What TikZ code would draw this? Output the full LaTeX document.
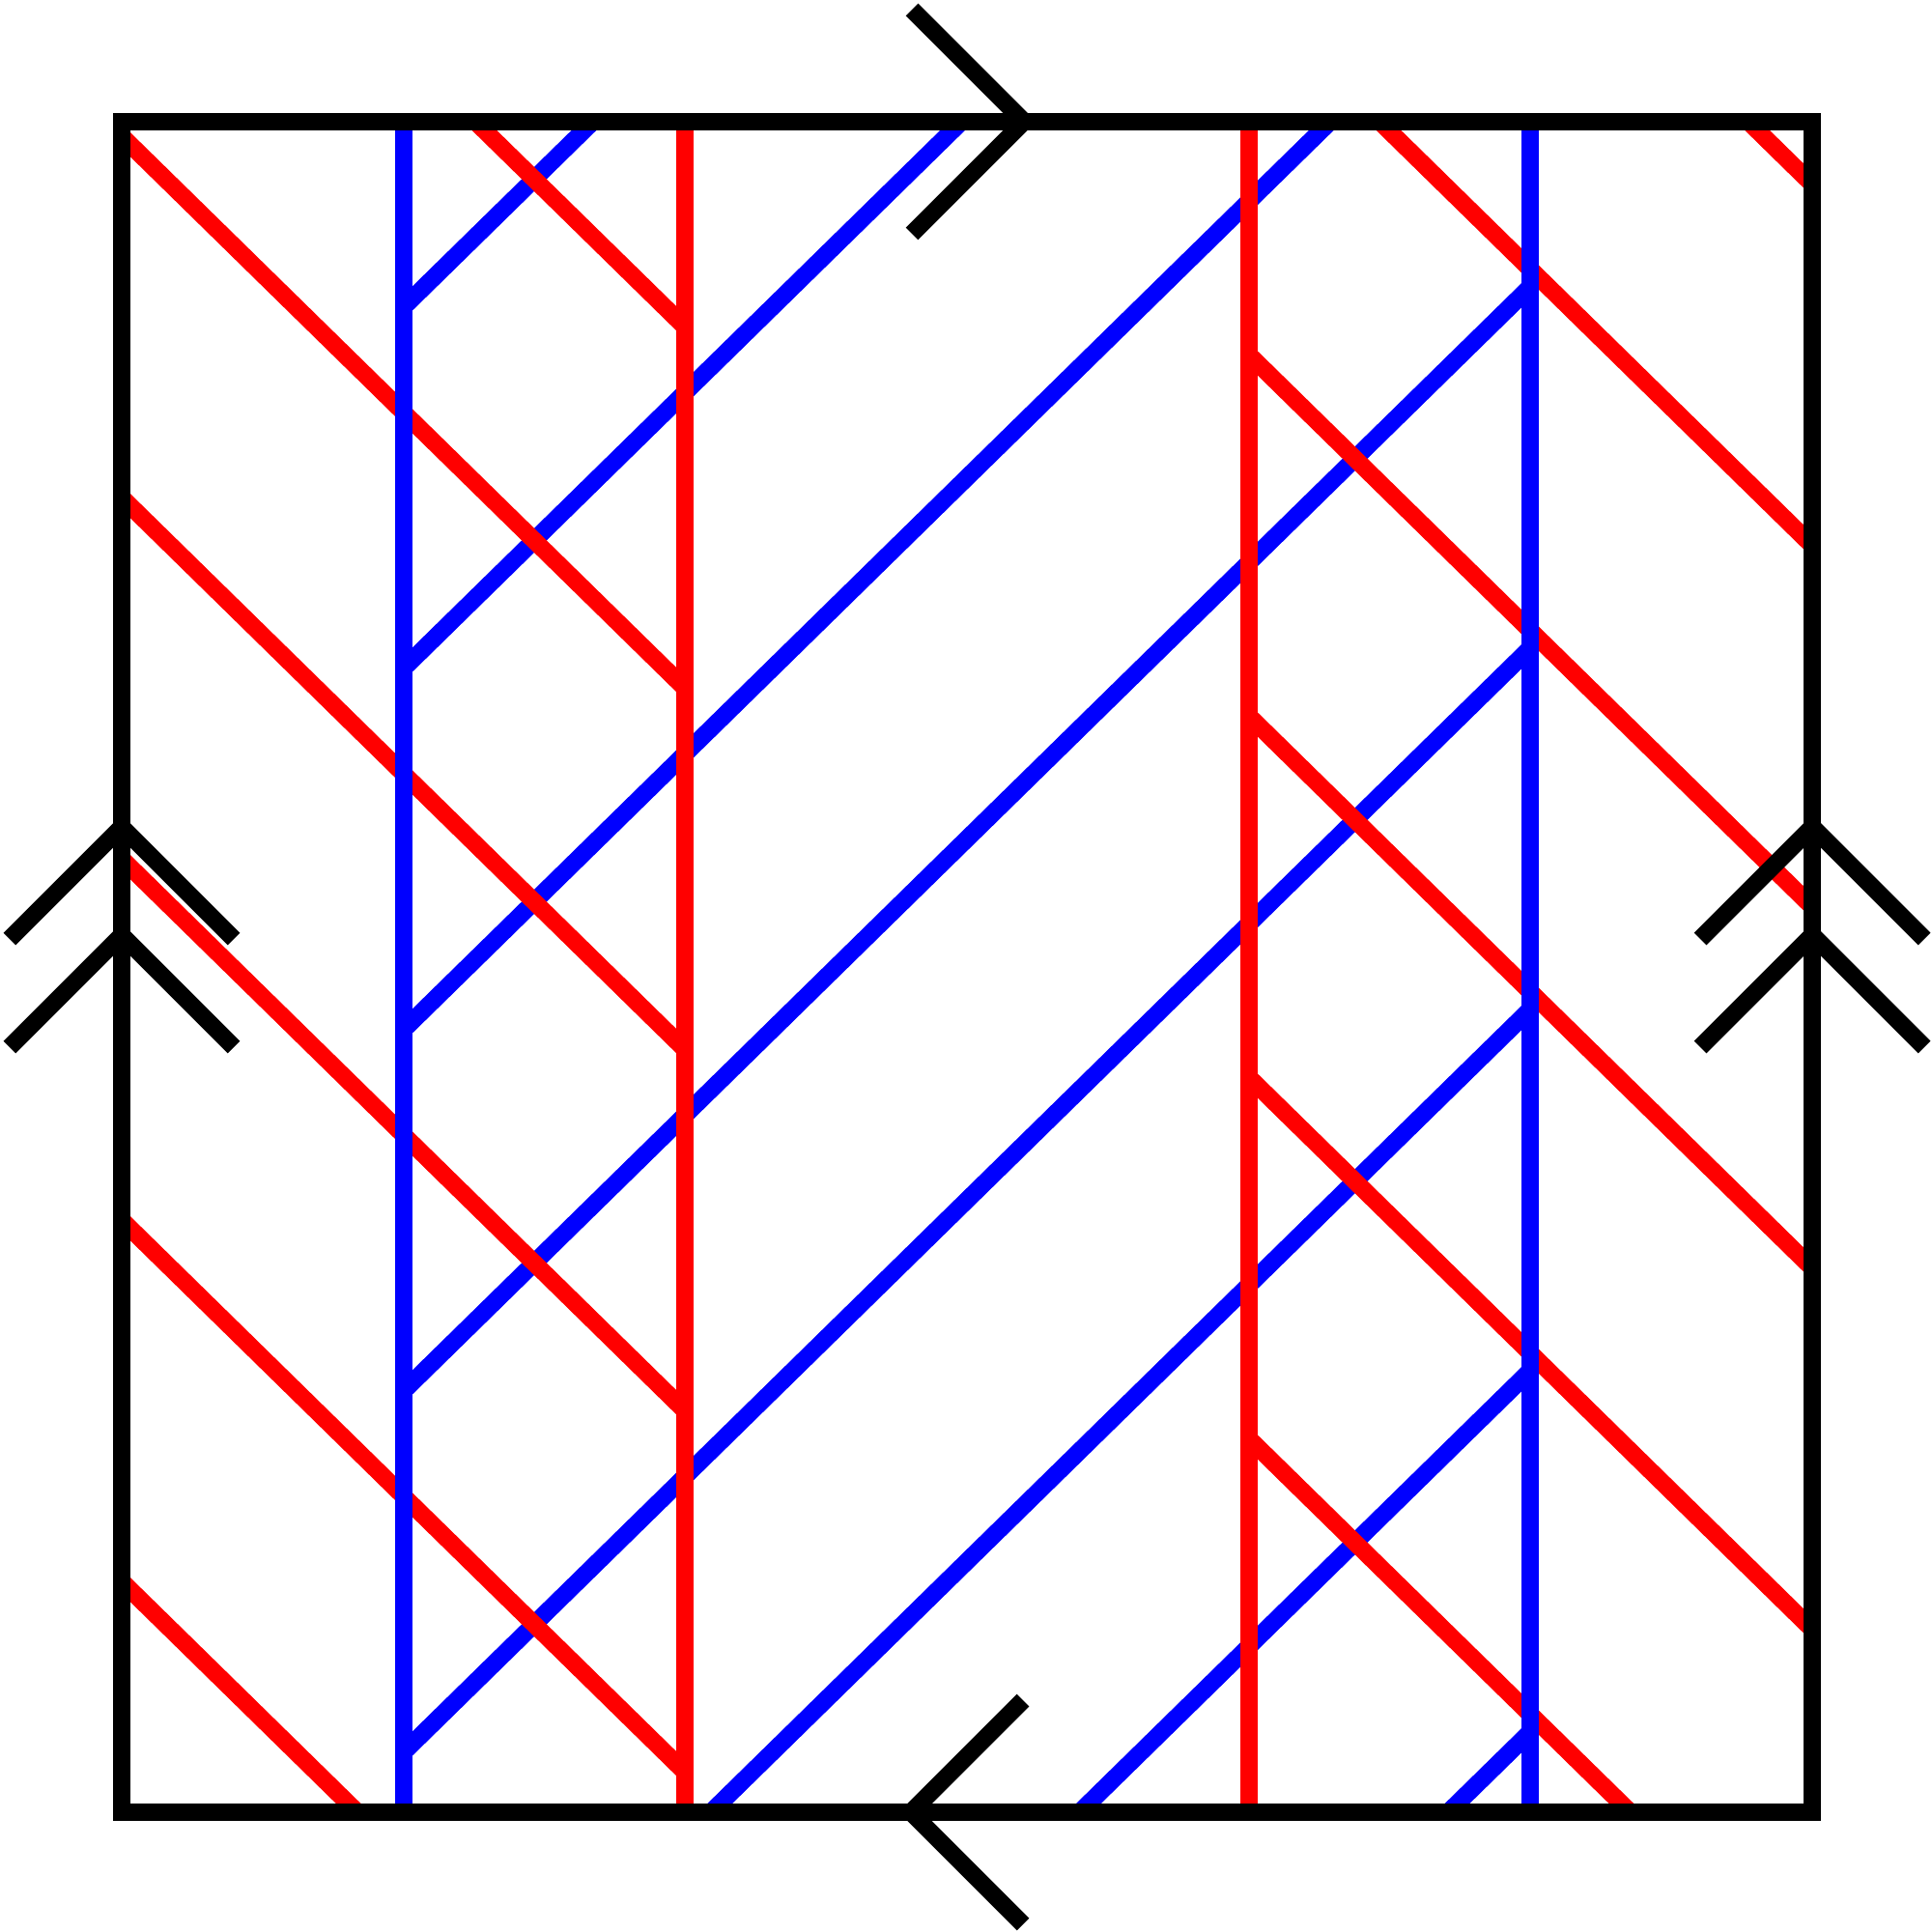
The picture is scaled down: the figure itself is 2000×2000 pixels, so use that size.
\documentclass[tikz,border=0pt]{standalone}
\begin{document}
\begin{tikzpicture}[x=0.01cm,y=-0.01cm,
  lw/.style={line width=0.18cm,line cap=butt,line join=miter},
  redl/.style={lw,draw={rgb,255:red,255;green,0;blue,0}},
  bluel/.style={lw,draw={rgb,255:red,0;green,0;blue,255}},
  blk/.style={lw,draw=black}]
\useasboundingbox (0,0) rectangle (2000,2000);
\begin{scope}[shift={(126,126)}]
% blue diagonals
\draw[bluel] (291.67,192) -- (487.6,0);
\draw[bluel] (291.67,566) -- (869.2,0);
\draw[bluel] (291.67,940) -- (1250.9,0);
\draw[bluel] (291.67,1314) -- (1458.33,170.67);
\draw[bluel] (291.67,1688) -- (1458.33,544.67);
\draw[bluel] (610.0,1750) -- (1458.33,918.67);
\draw[bluel] (991.7,1750) -- (1458.33,1292.67);
\draw[bluel] (1373.3,1750) -- (1458.33,1666.67);
% red diagonals, left part
\draw[redl] (366.3,0) -- (583.33,212.67);
\draw[redl] (0,15) -- (583.33,586.67);
\draw[redl] (0,389) -- (583.33,960.67);
\draw[redl] (0,763) -- (583.33,1334.67);
\draw[redl] (0,1137) -- (583.33,1708.67);
\draw[redl] (0,1511) -- (243.9,1750);
% red diagonals, right part
\draw[redl] (1684,0) -- (1750,64.67);
\draw[redl] (1302.4,0) -- (1750,438.67);
\draw[redl] (1166.67,241) -- (1750,812.67);
\draw[redl] (1166.67,615) -- (1750,1186.67);
\draw[redl] (1166.67,989) -- (1750,1560.67);
\draw[redl] (1166.67,1363) -- (1561.6,1750);
% verticals
\draw[redl] (583.33,0) -- (583.33,1750);
\draw[redl] (1166.67,0) -- (1166.67,1750);
\draw[bluel] (291.67,0) -- (291.67,1750);
\draw[bluel] (1458.33,0) -- (1458.33,1750);
% square
\draw[blk] (0,0) rectangle (1750,1750);
\end{scope}
% edge arrows
\draw[blk] (944,10) -- (1060,126) -- (944,242);
\draw[blk] (1059,1760) -- (943,1876) -- (1059,1992);
\draw[blk] (10,972) -- (126,856) -- (242,972);
\draw[blk] (10,1084) -- (126,968) -- (242,1084);
\draw[blk] (1760,972) -- (1876,856) -- (1992,972);
\draw[blk] (1760,1084) -- (1876,968) -- (1992,1084);
\end{tikzpicture}
\end{document}
